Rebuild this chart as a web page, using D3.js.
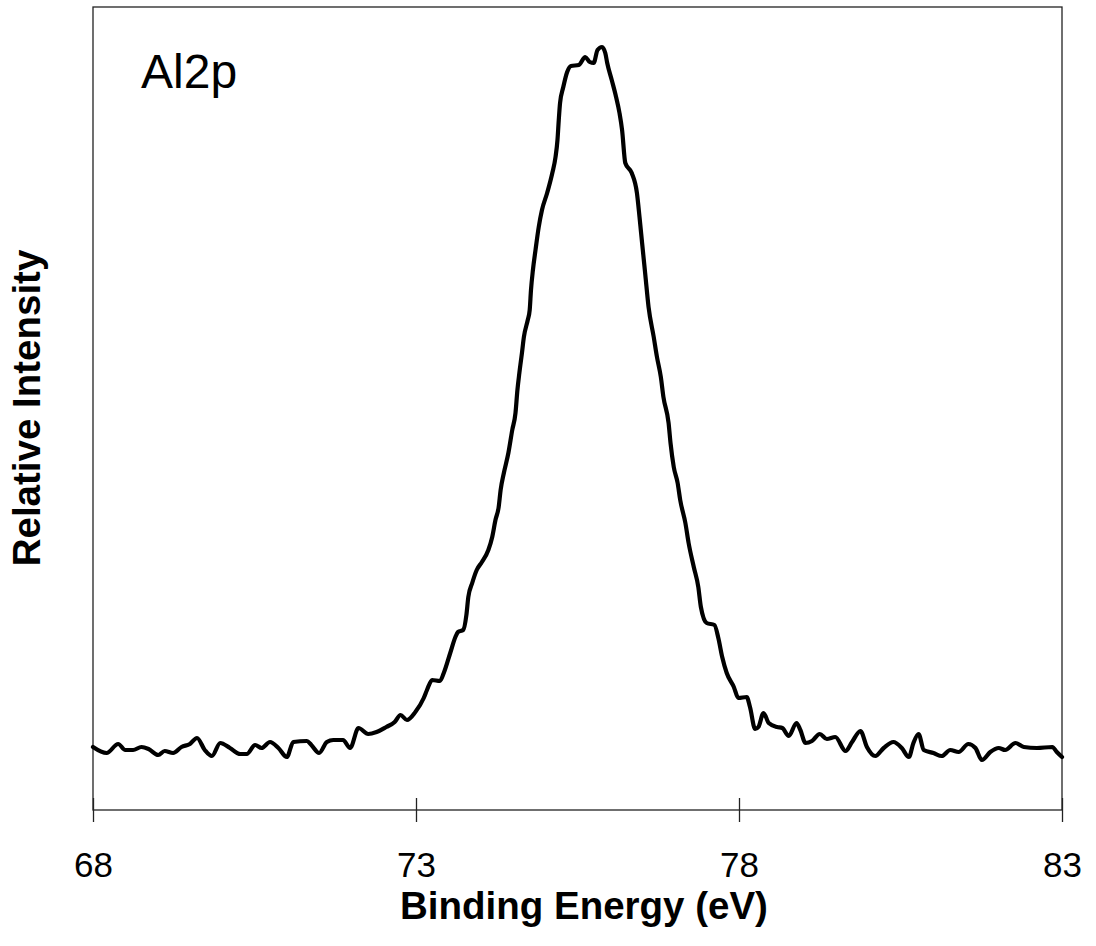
<!DOCTYPE html>
<html>
<head>
<meta charset="utf-8">
<script src="https://cdn.jsdelivr.net/npm/d3@7"></script>
<style>
  html, body { margin: 0; padding: 0; background: #fff; }
  svg { display: block; }
</style>
</head>
<body>
<svg id="chart"></svg>
<script>
'use strict';

// Al2p spectrum: binding energy (eV) and relative intensity (arb. units)
var energy = [
  68.00, 68.21, 68.39, 68.50, 68.62, 68.75, 68.86, 69.01, 69.11, 69.24,
  69.37, 69.50, 69.61, 69.73, 69.84, 69.97, 70.12, 70.28, 70.38, 70.51,
  70.61, 70.74, 70.87, 71.00, 71.10, 71.31, 71.38, 71.50, 71.62, 71.72,
  71.87, 71.98, 72.11, 72.26, 72.39, 72.54, 72.67, 72.76, 72.86, 72.99,
  73.12, 73.17, 73.25, 73.37, 73.43, 73.53, 73.61, 73.65, 73.73, 73.78,
  73.81, 73.87, 73.94, 74.02, 74.12, 74.18, 74.23, 74.28, 74.31, 74.36,
  74.43, 74.49, 74.54, 74.57, 74.60, 74.64, 74.67, 74.73, 74.76, 74.78,
  74.81, 74.85, 74.90, 74.95, 75.03, 75.11, 75.16, 75.19, 75.21, 75.23,
  75.28, 75.34, 75.40, 75.52, 75.62, 75.69, 75.75, 75.81, 75.88, 75.93,
  75.96, 76.03, 76.09, 76.15, 76.19, 76.24, 76.34, 76.42, 76.46, 76.50,
  76.55, 76.60, 76.68, 76.73, 76.79, 76.83, 76.91, 76.94, 76.99, 77.05,
  77.09, 77.17, 77.22, 77.30, 77.37, 77.41, 77.50, 77.62, 77.68, 77.74,
  77.81, 77.92, 77.99, 78.12, 78.17, 78.25, 78.30, 78.38, 78.46, 78.59,
  78.67, 78.77, 78.89, 78.95, 79.03, 79.13, 79.25, 79.36, 79.49, 79.65,
  79.75, 79.88, 79.98, 80.11, 80.24, 80.39, 80.52, 80.63, 80.70, 80.78,
  80.86, 81.01, 81.14, 81.27, 81.40, 81.55, 81.66, 81.76, 81.89, 82.02,
  82.12, 82.28, 82.41, 82.61, 82.85, 82.92, 83.00
];

var intensity = [
   63,  57,  66,  60,  60,  63,  61,  55,  59,  57,
   63,  66,  72,  60,  54,  67,  62,  56,  56,  65,
   62,  68,  62,  53,  68,  69,  65,  57,  68,  70,
   70,  62,  82,  76,  78,  83,  88,  95,  90,  98,
  112, 120, 130, 129, 137, 157, 173, 178, 180, 195,
  213, 227, 240, 248, 260, 273, 290, 303, 320, 337,
  357, 380, 397, 420, 437, 457, 473, 490, 500, 520,
  540, 560, 583, 600, 617, 637, 653, 670, 690, 707,
  723, 738, 744, 745, 753, 748, 747, 760, 763, 757,
  747, 730, 715, 697, 680, 647, 637, 617, 593, 567,
  535, 503, 473, 453, 433, 413, 387, 367, 343, 327,
  310, 287, 267, 243, 223, 203, 187, 185, 172, 153,
  137, 123, 112, 113, 103,  81,  83,  97,  87,  83,
   82,  74,  87,  80,  67,  69,  76,  71,  73,  59,
   68,  79,  63,  54,  62,  68,  62,  53,  67,  76,
   60,  57,  54,  60,  58,  66,  62,  50,  58,  62,
   60,  67,  63,  62,  63,  58,  53
];

var xTicks = [68, 73, 78, 83];
var xDomain = [68, 83];
var yDomain = [0, 803];

(function () {
    var width = 1096;
    var height = 946;
    var plotLeft = 93, plotRight = 1062, plotTop = 7, plotBottom = 810;
    var font = 'Liberation Sans, Arial, sans-serif';

    var svg = d3.select('#chart')
        .attr('width', width)
        .attr('height', height);

    var scaleX = d3.scaleLinear()
        .domain(xDomain)
        .range([plotLeft, plotRight]);

    var scaleY = d3.scaleLinear()
        .domain(yDomain)
        .range([plotBottom, plotTop]);

    // plot frame
    svg.append('rect')
        .attr('x', plotLeft)
        .attr('y', plotTop)
        .attr('width', plotRight - plotLeft)
        .attr('height', plotBottom - plotTop)
        .attr('fill', 'none')
        .attr('stroke', '#222')
        .attr('stroke-width', 1.3);

    // x axis, ticks cross the axis line
    var xAxis = svg.append('g')
        .attr('class', 'x axis')
        .attr('transform', 'translate(0,' + plotBottom + ')')
        .call(d3.axisBottom(scaleX).tickValues(xTicks).tickSize(12).tickPadding(0).tickFormat(d3.format('d')));

    xAxis.select('.domain').remove();
    xAxis.selectAll('.tick line')
        .attr('y1', -12)
        .attr('y2', 12)
        .attr('stroke', '#222')
        .attr('stroke-width', 1.3);
    xAxis.selectAll('.tick text')
        .attr('y', 67)
        .attr('dy', 0)
        .attr('fill', '#000')
        .attr('font-size', 35)
        .attr('font-family', font);

    var line = d3.line()
        .x(function (d, i) { return scaleX(energy[i]); })
        .y(function (d) { return scaleY(d); })
        .curve(d3.curveMonotoneX);

    svg.append('path')
        .datum(intensity)
        .attr('d', line)
        .attr('fill', 'none')
        .attr('stroke', '#000')
        .attr('stroke-width', 4.2)
        .attr('stroke-linejoin', 'round')
        .attr('stroke-linecap', 'round');

    svg.append('text')
        .attr('x', 141)
        .attr('y', 88)
        .attr('font-size', 48)
        .attr('font-family', font)
        .text('Al2p');

    svg.append('text')
        .attr('text-anchor', 'middle')
        .attr('x', 584)
        .attr('y', 919)
        .attr('font-size', 38.5)
        .attr('font-weight', 'bold')
        .attr('font-family', font)
        .text('Binding Energy (eV)');

    svg.append('text')
        .attr('text-anchor', 'middle')
        .attr('font-size', 38.5)
        .attr('font-weight', 'bold')
        .attr('font-family', font)
        .attr('transform', 'translate(40,408)rotate(-90)')
        .text('Relative Intensity');
})();
</script>
</body>
</html>
